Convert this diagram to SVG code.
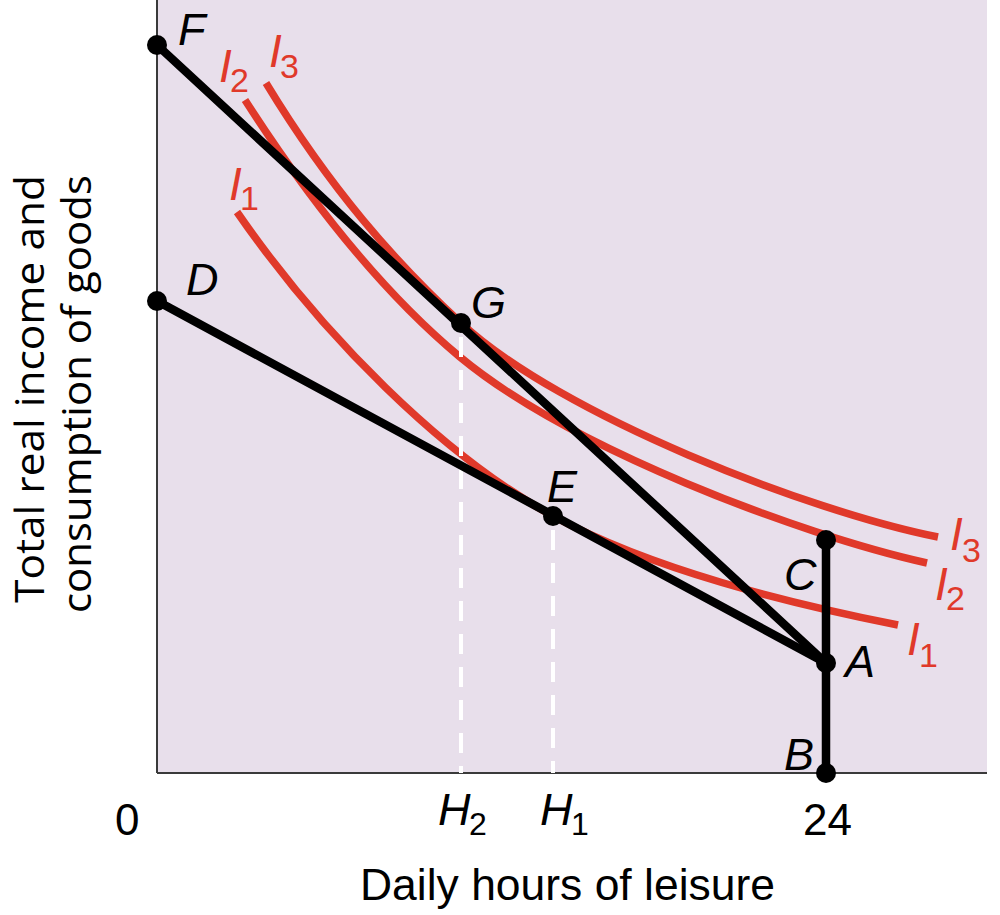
<svg xmlns="http://www.w3.org/2000/svg" width="1000" height="915" viewBox="0 0 1000 915">
  <style>
    .curve { fill: none; stroke: #e0392a; stroke-width: 7.5; stroke-linecap: butt; }
    .budget { fill: none; stroke: #000; stroke-width: 8.5; stroke-linecap: round; }
    .dash { fill: none; stroke: #fff; stroke-width: 4; stroke-dasharray: 20 13; }
    .axis { fill: none; stroke: #3a3a3a; stroke-width: 2; }
    .dot { fill: #000; }
    .pt { font-family: "Liberation Sans", Arial, sans-serif; font-style: italic; font-size: 45px; fill: #000; }
    .il { font-family: "Liberation Sans", Arial, sans-serif; font-style: italic; font-size: 46px; fill: #e0392a; }
    .sub { font-family: "Liberation Sans", Arial, sans-serif; font-style: normal; }
    .num { font-family: "Liberation Sans", Arial, sans-serif; font-size: 44px; fill: #000; }
    .ylab { font-family: "Open Sans", "Liberation Sans", sans-serif; font-size: 40px; fill: #000; }
  </style>
  <rect x="0" y="0" width="1000" height="915" fill="#fff"/>
  <g id="plot">
    <rect x="157" y="0" width="830" height="773" fill="#e8dfeb"/>
    <line class="axis" x1="157" y1="0" x2="157" y2="773"/>
    <line class="axis" x1="157" y1="773" x2="987" y2="773"/>
  </g>
  <g id="indifference-curves">
    <path id="I3" class="curve" d="M266,83 C331,190 396,263 461,323 C561,415.5 808,511 938,537"/>
    <path id="I2" class="curve" d="M245,100 C317,212 388,297 460,357 C570,448 797,534 927,563"/>
    <path id="I1" class="curve" d="M237,212 C322,335 443,456 553,516 C653,570 788,603 898,625"/>
  </g>
  <g id="connectors">
    <line class="dash" x1="461" y1="337" x2="461" y2="773"/>
    <line class="dash" x1="553" y1="530" x2="553" y2="773"/>
    <line class="budget" x1="157" y1="45" x2="826" y2="663"/>
    <line class="budget" x1="157" y1="301" x2="826" y2="663"/>
    <line class="budget" x1="826" y1="540" x2="826" y2="773"/>
  </g>
  <g id="node-F"><circle class="dot" cx="157" cy="45" r="10"/><text class="pt" x="178" y="45">F</text></g>
  <g id="node-D"><circle class="dot" cx="157" cy="301" r="10"/><text class="pt" x="186" y="295">D</text></g>
  <g id="node-G"><circle class="dot" cx="461" cy="323" r="10"/><text class="pt" x="471" y="318">G</text></g>
  <g id="node-E"><circle class="dot" cx="553" cy="516" r="10"/><text class="pt" x="547" y="502">E</text></g>
  <g id="node-C"><circle class="dot" cx="826" cy="540" r="10"/><text class="pt" x="784" y="590">C</text></g>
  <g id="node-A"><circle class="dot" cx="826" cy="663" r="10"/><text class="pt" x="845" y="677">A</text></g>
  <g id="node-B"><circle class="dot" cx="826" cy="773" r="10"/><text class="pt" x="784" y="770">B</text></g>
  <g id="curve-labels">
    <text class="il" x="219" y="82">I<tspan class="sub" x="230" y="92" font-size="34">2</tspan></text>
    <text class="il" x="269" y="67">I<tspan class="sub" x="280" y="78" font-size="34">3</tspan></text>
    <text class="il" x="229" y="200">I<tspan class="sub" x="240" y="210" font-size="34">1</tspan></text>
    <text class="il" x="950" y="550">I<tspan class="sub" x="962" y="562" font-size="34">3</tspan></text>
    <text class="il" x="935" y="600">I<tspan class="sub" x="946" y="610" font-size="34">2</tspan></text>
    <text class="il" x="907" y="655">I<tspan class="sub" x="919" y="667" font-size="34">1</tspan></text>
  </g>
  <g id="axis-labels">
    <text class="num" x="115" y="835">0</text>
    <text class="num" x="803" y="835">24</text>
    <text class="pt" x="438" y="825">H<tspan class="sub" x="469" y="835" font-size="32">2</tspan></text>
    <text class="pt" x="540" y="825">H<tspan class="sub" x="571" y="835" font-size="32">1</tspan></text>
    <text class="num" x="360" y="900" textLength="415" lengthAdjust="spacingAndGlyphs">Daily hours of leisure</text>
    <text class="ylab" transform="translate(44,389) rotate(-90)" text-anchor="middle" textLength="428" lengthAdjust="spacingAndGlyphs">Total real income and</text>
    <text class="ylab" transform="translate(91,394) rotate(-90)" text-anchor="middle" textLength="438" lengthAdjust="spacingAndGlyphs">consumption of goods</text>
  </g>
</svg>
